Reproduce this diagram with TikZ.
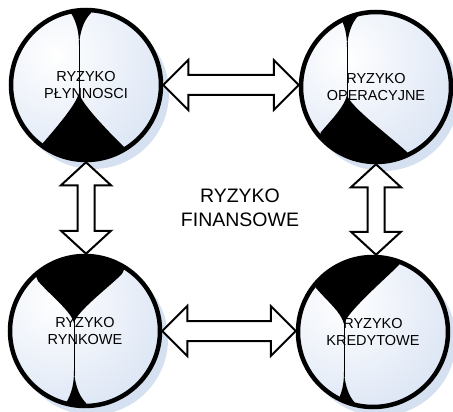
\documentclass[tikz,border=0pt]{standalone}
\usepackage{fontspec}
\setmainfont{Liberation Sans}
\usetikzlibrary{calc}
\definecolor{shadowblue}{RGB}{213,224,240}
\definecolor{ballblue}{RGB}{218,228,244}
\tikzset{
  ball/.style={circle, draw=black, line width=4.5pt, minimum size=150pt, inner sep=0pt,
    align=center, font=\fontsize{14.5}{17}\selectfont},
  blockarrow/.style={draw=black, fill=white, line width=2pt, line join=miter},
  centrelabel/.style={align=center, font=\fontsize{19.5}{24}\selectfont}
}
% #1 name, #2 centre, #3 flip, #4 dx, #5 Lx, #6 Ly, #7 Rx, #8 Ry, #9 text
\newcommand\riskball[9]{%
  \fill[shadowblue] ($#2+(7,8)$) circle (76pt);
  \begin{scope}
    \clip #2 circle (75pt);
    \shade[inner color=white, outer color=ballblue] ($#2+(-30,-30)$) circle (125pt);
    \begin{scope}[shift={#2}, yscale=#3]
      \fill[black] (#4-10,-90) -- (#4-8,-72) .. controls (#4-2,-62) and (#4,-52) .. (#4,-40)
        .. controls (#4+1,-52) and (#4+4,-64) .. (#4+12,-72) -- (#4+16,-90) -- cycle;
      \draw[line width=1pt] (#4,-45) -- (#4,12);
      \fill[black] (#4,8) .. controls (#4-3,20) and (#5+12,#6-14) .. (#5,#6)
        -- (#5-20,100) -- (#7+20,100) -- (#7,#8)
        .. controls (#7-14,#8-14) and (#4+3,20) .. (#4,8) -- cycle;
    \end{scope}
  \end{scope}
  \node[ball] (#1) at #2 {#9};
}
% horizontal double block arrow from #1 (left tip) to #2 (right tip)
\newcommand\harrow[2]{%
  \draw[blockarrow] (#1) -- ++(25,-25) -- ++(0,15) -- ($(#2)+(-25,-10)$) -- ++(0,-15)
    -- (#2) -- ++(-25,25) -- ++(0,-15) -- ($(#1)+(25,10)$) -- ++(0,15) -- cycle;
}
% vertical double block arrow from #1 (top tip) to #2 (bottom tip)
\newcommand\varrow[2]{%
  \draw[blockarrow] (#1) -- ++(25,23) -- ++(-16.5,0) -- ($(#2)+(8.5,-23)$) -- ++(16.5,0)
    -- (#2) -- ++(-25,-23) -- ++(16.5,0) -- ($(#1)+(-8.5,23)$) -- ++(-16.5,0) -- cycle;
}
\begin{document}
\begin{tikzpicture}[x=1pt,y=-1pt]
  \useasboundingbox (0,0) rectangle (453,412);
  \riskball{tl}{(86,85)}{1}{-7}{-43}{58}{39}{63}{RYZYKO\\PŁYNNOSCI}
  \riskball{tr}{(376,87)}{1}{-29}{-55}{45}{33}{67}{RYZYKO\\OPERACYJNE}
  \riskball{bl}{(85,331)}{-1}{-11}{-47}{50}{37}{57}{RYZYKO\\RYNKOWE}
  \riskball{br}{(373,332)}{-1}{-29}{-57}{44}{26}{67}{RYZYKO\\KREDYTOWE}
  \node[centrelabel] (fin) at (240,208) {RYZYKO\\FINANSOWE};
  \harrow{tl.east}{tl.east -| tr.west}
  \harrow{bl.east}{bl.east -| br.west}
  \varrow{tl.south}{tl.south |- bl.north}
  \varrow{tr.south}{tr.south |- br.north}
\end{tikzpicture}
\end{document}
